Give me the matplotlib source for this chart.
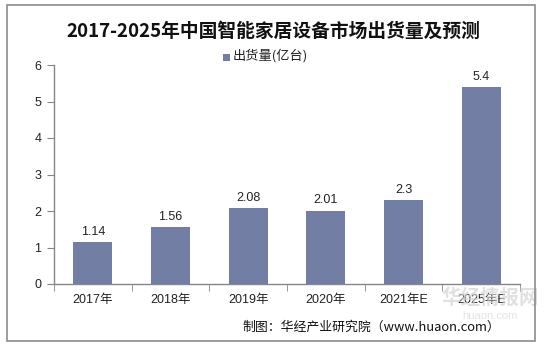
import matplotlib
matplotlib.use("Agg")
import matplotlib.pyplot as plt
import numpy as np
from matplotlib.patches import Rectangle

categories = ["2017年", "2018年", "2019年", "2020年", "2021年E", "2025年E"]
values = [1.14, 1.56, 2.08, 2.01, 2.3, 5.4]
value_labels = ["1.14", "1.56", "2.08", "2.01", "2.3", "5.4"]
yticks = [0, 1, 2, 3, 4, 5, 6]
title = "2017-2025年中国智能家居设备市场出货量及预测"
legend_label = "出货量(亿台)"
source = "制图：华经产业研究院（www.huaon.com）"

FAM = ['Liberation Sans', 'Noto Sans CJK SC', 'DejaVu Sans']
plt.rcParams['font.family'] = FAM

W, H = 546, 347
fig = plt.figure(figsize=(W/100, H/100), dpi=100)
fig.patch.set_facecolor('white')

# outer border
fig.add_artist(Rectangle((7/W, 1-341/H), (535-7)/W, (341-5)/H, transform=fig.transFigure,
                         fill=False, edgecolor='#8c8c8c', linewidth=1.2))

ax = fig.add_axes([54/W, 1-284/H, (520-54)/W, (284-65)/H])
bar_color = '#727ea3'
x = np.arange(len(categories))
ax.bar(x, values, width=0.5, color=bar_color)
for xi, v, lab in zip(x, values, value_labels):
    ax.text(xi, v + 0.12, lab, ha='center', va='bottom', fontsize=9, color='#222222')

ax.set_xlim(-0.5, len(categories) - 0.5)
ax.set_ylim(0, 6)
ax.set_yticks(yticks)
ax.set_yticklabels([str(t) for t in yticks], fontsize=9, color='#222222')
ax.set_xticks(x)
ax.set_xticklabels(categories, fontsize=9, color='#222222')
ax.tick_params(axis='x', which='major', length=0, pad=7)
ax.set_xticks(np.arange(-0.5, len(categories)), minor=True)
ax.tick_params(axis='x', which='minor', length=5, color='#868686')
ax.tick_params(axis='y', length=5, color='#868686', pad=4)
for s in ['top', 'right']:
    ax.spines[s].set_visible(False)
for s in ['left', 'bottom']:
    ax.spines[s].set_color('#868686')
    ax.spines[s].set_linewidth(1)

fig.text(273/W, 1-31/H, title, ha='center', va='center', fontsize=13.5,
         fontweight='bold', family=['Noto Sans CJK SC'], color='#111111')

# legend
fig.add_artist(Rectangle((223/W, 1-61/H), 7/W, 7/H, transform=fig.transFigure,
                         facecolor=bar_color, edgecolor='none'))
fig.text(233/W, 1-56/H, legend_label, ha='left', va='center', fontsize=9.5,
         family=['Noto Sans CJK SC'], color='#222222')

# watermark (faint, as in reference)
fig.text(490/W, 1-298/H, "华经情报网", ha='center', va='center', fontsize=14,
         fontweight='bold', family=['Noto Sans CJK SC'], color='#d4d4d4', alpha=0.7,
         zorder=0)
fig.text(490/W, 1-316/H, "huaon.com", ha='center', va='center', fontsize=8,
         color='#dcdcdc', alpha=0.8, zorder=0)

fig.text(500/W, 1-327/H, source, ha='right', va='center', fontsize=9.3,
         family=['Noto Sans CJK SC'], color='#111111')

fig.savefig("out.png", dpi=100, facecolor='white')
